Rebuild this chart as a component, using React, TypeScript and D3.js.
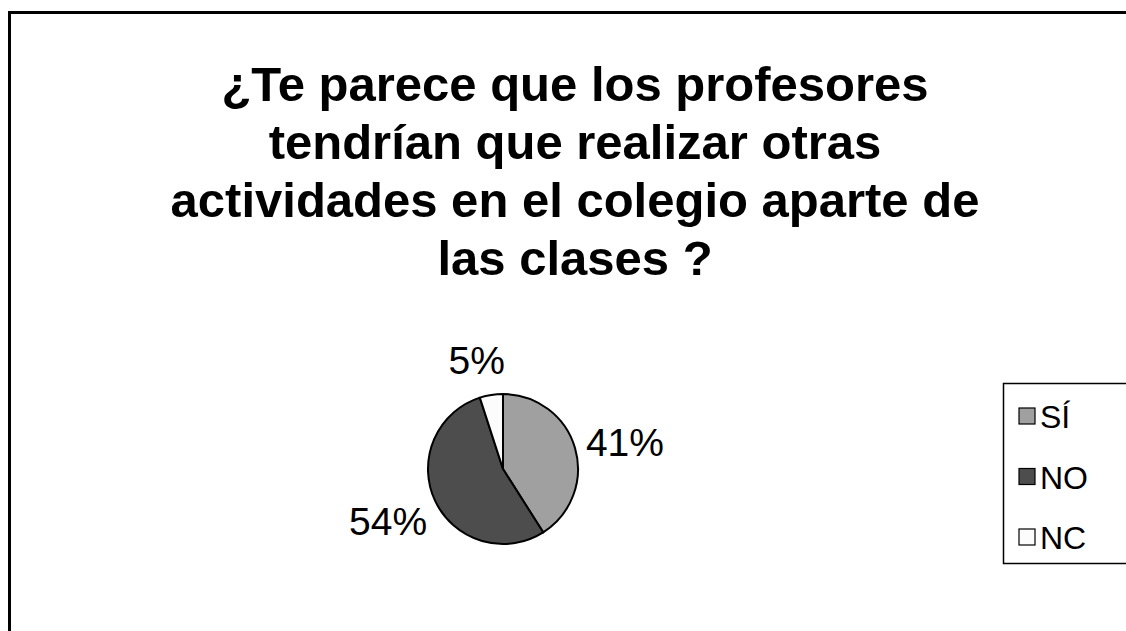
import React from 'react';
import * as d3 from 'd3';

const TITLE_LINES = [
    '¿Te parece que los profesores',
    'tendrían que realizar otras',
    'actividades en el colegio aparte de',
    'las clases ?',
];
const CATEGORIES = ['SÍ', 'NO', 'NC'];
const PERCENTS = [41, 54, 5];
const SLICE_COLORS = ['#a0a0a0', '#4d4d4d', '#fcfcfc'];

const WIDTH = 1126;
const HEIGHT = 631;
const FONT = 'Arial, "Liberation Sans", sans-serif';

const PIE_CX = 503;
const PIE_CY = 469;
const PIE_R = 75;
// label distance from centre and small nudges, per slice (Excel placed them by hand)
const LABEL_R = [127, 127, 110];
const LABEL_NUDGE = [[0, 9], [0, -2], [-9, 0]];

function PieSlices()
{
    const pie = d3.pie<number>().sort(null).value((d) => d);
    const arcs = pie(PERCENTS);
    const arc = d3.arc<d3.PieArcDatum<number>>().innerRadius(0).outerRadius(PIE_R);

    return (
        <g transform={ `translate(${ PIE_CX },${ PIE_CY })` }>
            { arcs.map((a, i) => (
                <path key={ CATEGORIES[i] } d={ arc(a) || '' } fill={ SLICE_COLORS[i] }
                    stroke="#000" strokeWidth={ 2 } strokeLinejoin="round" />
            )) }
            { arcs.map((a, i) =>
            {
                const labelArc = d3.arc<d3.PieArcDatum<number>>()
                    .innerRadius(LABEL_R[i]).outerRadius(LABEL_R[i]);
                const [x, y] = labelArc.centroid(a);
                return (
                    <text key={ 'l' + i } x={ x + LABEL_NUDGE[i][0] } y={ y + LABEL_NUDGE[i][1] }
                        textAnchor="middle" dominantBaseline="central"
                        fontFamily={ FONT } fontSize={ 39 } fill="#000">
                        { PERCENTS[i] }%
                    </text>
                );
            }) }
        </g>
    );
}

function Legend()
{
    const rowY = d3.scalePoint<string>().domain(CATEGORIES).range([416, 537]);
    return (
        <g>
            <rect x={ 1003.5 } y={ 383.5 } width={ 140 } height={ 180 } fill="#fff" stroke="#000" strokeWidth={ 1.5 } />
            { CATEGORIES.map((c, i) => (
                <g key={ c } transform={ `translate(1019,${ rowY(c) })` }>
                    <rect x={ 0 } y={ -8 } width={ 16 } height={ 16 } fill={ SLICE_COLORS[i] } stroke="#000" strokeWidth={ 1.2 } />
                    <text x={ 21 } y={ 1 } dominantBaseline="central" fontFamily={ FONT } fontSize={ 32 } fill="#000">{ c }</text>
                </g>
            )) }
        </g>
    );
}

export default function App()
{
    return (
        <svg width={ WIDTH } height={ HEIGHT } style={ { position: 'absolute', left: 0, top: 0 } }>
            <rect x={ 0 } y={ 0 } width={ WIDTH } height={ HEIGHT } fill="#fff" />
            <rect x={ 9.5 } y={ 12.5 } width={ 1200 } height={ 700 } fill="#fff" stroke="#000" strokeWidth={ 3 } />
            <text x={ 575 } y={ 101 } textAnchor="middle" fontFamily={ FONT } fontSize={ 49 } fontWeight="bold" fill="#000">
                { TITLE_LINES.map((line, i) => (
                    <tspan key={ i } x={ 575 } dy={ i === 0 ? 0 : 58 }>{ line }</tspan>
                )) }
            </text>
            <PieSlices />
            <Legend />
        </svg>
    );
}
